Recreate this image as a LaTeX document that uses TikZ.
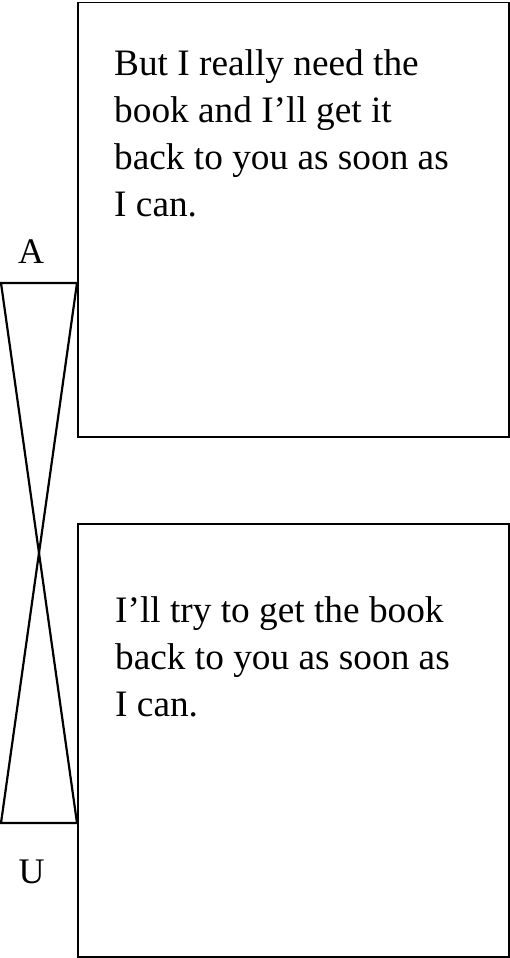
\documentclass[tikz,border=0pt]{standalone}
\usepackage{fontspec}
\setmainfont{Liberation Serif}
\tikzset{
  panel/.style={draw, line width=1.5pt, anchor=north west, inner sep=0pt},
  saytext/.style={anchor=base west, align=left, inner sep=0pt, font=\fontsize{37.3}{47}\selectfont},
  pole/.style={font=\fontsize{36}{43}\selectfont, anchor=base, inner sep=0pt},
  glass/.style={line width=2.2pt, line join=miter}
}
\begin{document}
\begin{tikzpicture}[x=1pt,y=1pt]
\useasboundingbox (0,0) rectangle (510,-958);
\node[panel, minimum width=431pt, minimum height=434pt] (box1) at (77,-2) {};
\node[panel, minimum width=431pt, minimum height=433pt] (box2) at (77,-523) {};
\node[saytext] (t1) at (114,-216) {But I really need the\\book and I’ll get it\\back to you as soon as\\I can.};
\node[saytext] (t2) at (115,-716.5) {I’ll try to get the book\\back to you as soon as\\I can.};
\node[pole] (A) at (31,-263) {A};
\node[pole] (U) at (31.5,-883) {U};
\coordinate (tl) at (1,-283);
\coordinate (tr) at (77,-283);
\coordinate (bl) at (1,-823);
\coordinate (br) at (77,-823);
\draw[glass] (tr) -- (tl) -- (br);
\draw[glass] (tr) -- (bl) -- (br);
\end{tikzpicture}
\end{document}
